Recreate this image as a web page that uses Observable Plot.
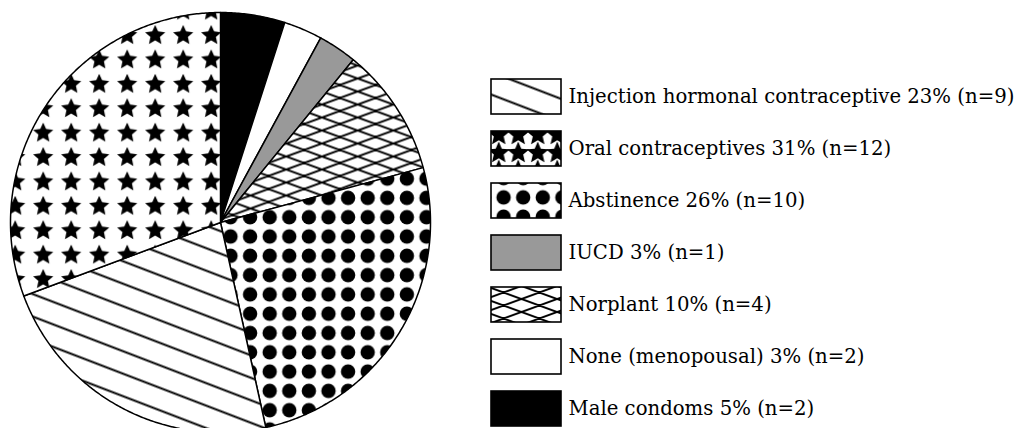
<!DOCTYPE html>
<html><head><meta charset="utf-8">
<script src="https://cdn.jsdelivr.net/npm/d3@7"></script>
<script src="https://cdn.jsdelivr.net/npm/@observablehq/plot@0.6"></script>
<style>
html,body{margin:0;padding:0;background:#fff;}
#wrap{display:flex;width:1018px;height:428px;overflow:hidden;}
</style></head><body>
<svg id="defs" width="0" height="0" style="position:absolute"></svg>
<div id="wrap"><div id="pie"></div><div id="legend"></div></div>
<script>
// ---- data (clockwise from 12 o'clock) ----
const categories = ["Male condoms", "None (menopousal)", "IUCD", "Norplant", "Abstinence", "Injection hormonal contraceptive", "Oral contraceptives"];
const percents = [5, 3, 3, 10, 26, 23, 31];
const counts = [2, 2, 1, 4, 10, 9, 12];
const legendOrder = ["Injection hormonal contraceptive", "Oral contraceptives", "Abstinence", "IUCD", "Norplant", "None (menopousal)", "Male condoms"];

// ---- styles ----
const pieFill = {
  "Male condoms": "#000000",
  "None (menopousal)": "#ffffff",
  "IUCD": "#999999",
  "Norplant": "url(#cross)",
  "Abstinence": "url(#dots)",
  "Injection hormonal contraceptive": "url(#hatch)",
  "Oral contraceptives": "url(#stars)"
};
const legendFill = Object.assign({}, pieFill, {"Oral contraceptives": "url(#starsLegend)"});

// ---- patterns ----
const defs = d3.select("#defs").append("defs");
function starPath(cx, cy, R, r) {
  const pts = [];
  for (let i = 0; i < 10; i++) {
    const a = -Math.PI / 2 + i * Math.PI / 5;
    const rad = i % 2 === 0 ? R : r;
    pts.push([cx + rad * Math.cos(a), cy + rad * Math.sin(a)]);
  }
  return "M" + pts.map(p => p.join(",")).join("L") + "Z";
}
function starPattern(id, w, h, x, y, R, r) {
  const p = defs.append("pattern").attr("id", id).attr("patternUnits", "userSpaceOnUse")
    .attr("width", w).attr("height", h).attr("x", x).attr("y", y);
  p.append("rect").attr("width", w).attr("height", h).attr("fill", "#fff");
  for (const dx of [-w, 0, w]) for (const dy of [-h, 0, h])
    p.append("path").attr("d", starPath(w / 2 + dx, h / 2 + dy, R, r)).attr("fill", "#000");
}
starPattern("stars", 28, 24.4, 0.7, -1.6, 10.6, 5.0);
starPattern("starsLegend", 19.5, 18, 0, 0, 11.5, 5.2);
{
  const w = 19.6, h = 19.3;
  const p = defs.append("pattern").attr("id", "dots").attr("patternUnits", "userSpaceOnUse")
    .attr("width", w).attr("height", h).attr("x", 4.6).attr("y", -5.25);
  p.append("rect").attr("width", w).attr("height", h).attr("fill", "#fff");
  p.append("circle").attr("cx", w / 2).attr("cy", h / 2).attr("r", 7.2).attr("fill", "#000");
}
{
  const p = defs.append("pattern").attr("id", "hatch").attr("patternUnits", "userSpaceOnUse")
    .attr("width", 10).attr("height", 21).attr("patternTransform", "rotate(21)");
  p.append("rect").attr("width", 10).attr("height", 21).attr("fill", "#fff");
  p.append("line").attr("x1", -1).attr("x2", 11).attr("y1", 10.5).attr("y2", 10.5).attr("stroke", "#000").attr("stroke-width", 2);
}
{
  const d = 13, w = d / Math.tan(20 * Math.PI / 180);
  const p = defs.append("pattern").attr("id", "cross").attr("patternUnits", "userSpaceOnUse")
    .attr("width", w).attr("height", d);
  p.append("rect").attr("width", w).attr("height", d).attr("fill", "#fff");
  let path = "";
  for (const dx of [-w, 0, w]) for (const dy of [-d, 0, d]) {
    path += `M${dx},${dy}L${dx + w},${dy + d}M${dx},${dy + d}L${dx + w},${dy}`;
  }
  p.append("path").attr("d", path).attr("stroke", "#000").attr("stroke-width", 2).attr("fill", "none");
}

// ---- pie geometry from data ----
const data = categories.map((c, i) => ({key: c, value: percents[i]}));
const arcs = d3.pie().sort(null).value(d => d.value).startAngle(0).endAngle(2 * Math.PI)(data);
const slices = arcs.map(a => {
  const n = Math.max(2, Math.ceil((a.endAngle - a.startAngle) / (Math.PI / 360)));
  const pts = [{x: 0, y: 0}];
  for (let i = 0; i <= n; i++) {
    const t = a.startAngle + (a.endAngle - a.startAngle) * i / n;
    pts.push({x: Math.sin(t), y: Math.cos(t)});
  }
  pts.push({x: 0, y: 0});
  return {key: a.data.key, pts};
});

// pixel layout of the pie: centre (220,222), radius 210 in a 450x428 frame
const R = 210, cx = 220, cy = 222, W = 450, H = 428;
const piePlot = Plot.plot({
  width: W, height: H, margin: 0,
  x: {domain: [-cx / R, (W - cx) / R], axis: null},
  y: {domain: [(cy - H) / R, cy / R], axis: null},
  marks: slices.map(s => Plot.line(s.pts, {
    x: "x", y: "y", fill: pieFill[s.key], stroke: "#000", strokeWidth: 1.5, strokeLinejoin: "round"
  }))
});
document.getElementById("pie").appendChild(piePlot);

// ---- legend ----
const legendData = legendOrder.map(k => {
  const i = categories.indexOf(k);
  return {key: k, label: `${k} ${percents[i]}% (n=${counts[i]})`};
});
const legendPlot = Plot.plot({
  width: 568, height: 428, margin: 0,
  x: {type: "band", domain: ["swatch"], range: [41, 111], padding: 0, axis: null},
  y: {type: "band", domain: legendOrder, range: [77, 427], paddingInner: 1 / 3, paddingOuter: 0, axis: null},
  color: {type: "ordinal", domain: legendOrder, range: legendOrder.map(k => legendFill[k])},
  marks: [
    Plot.cell(legendData, {x: () => "swatch", y: "key", fill: "key", stroke: "#000", strokeWidth: 1.6, inset: 0}),
    Plot.text(legendData, {x: () => "swatch", y: "key", text: "label", textAnchor: "start", dx: 42,
      fontSize: 19.7, fontFamily: "DejaVu Serif", fill: "#000"})
  ]
});
document.getElementById("legend").appendChild(legendPlot);
</script>
</body></html>
